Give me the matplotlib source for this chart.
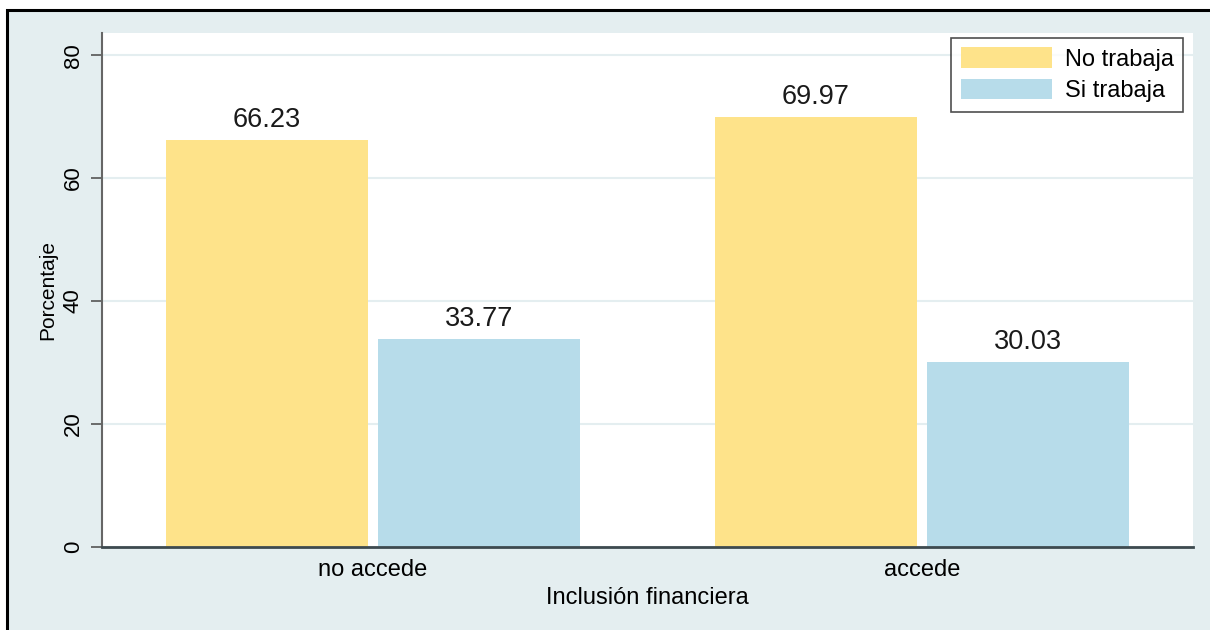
import matplotlib.pyplot as plt
import numpy as np
from matplotlib.patches import Rectangle

plt.rcParams['font.family'] = ['Liberation Sans', 'DejaVu Sans']

categories = ['no accede', 'accede']
no_trabaja = [66.23, 69.97]
si_trabaja = [33.77, 30.03]
series_names = ['No trabaja', 'Si trabaja']
yticks = [0, 20, 40, 60, 80]

yellow = '#fee38a'
blue = '#b7dcea'
bg = '#e4eef0'

fig = plt.figure(figsize=(12.1, 6.3), dpi=100)
fig.patch.set_facecolor('white')

# stata-like outer panel with black border at top/left
fig.patches.append(Rectangle((7 / 1210, -0.05), 1.1, 1 - 10 / 630 + 0.05,
                             transform=fig.transFigure, facecolor=bg,
                             edgecolor='black', linewidth=2.2, zorder=-10))

ax = fig.add_axes([102 / 1210, 83 / 630, 1091 / 1210, 514 / 630])
ax.set_facecolor('white')

x = np.arange(len(categories))
w = 0.368
gap = 0.018
b1 = ax.bar(x - (w + gap) / 2, no_trabaja, w, color=yellow, label=series_names[0], zorder=2)
b2 = ax.bar(x + (w + gap) / 2, si_trabaja, w, color=blue, label=series_names[1], zorder=2)

for bars, vals in [(b1, no_trabaja), (b2, si_trabaja)]:
    for r, v in zip(bars, vals):
        ax.annotate('%.2f' % v, (r.get_x() + r.get_width() / 2, v),
                    xytext=(0, 5), textcoords='offset points',
                    ha='center', va='bottom', fontsize=19.5, color='#1a1a1a')

ax.set_xlim(-0.494, 1.494)
ax.set_ylim(0, 83.6)
ax.set_yticks(yticks)
ax.set_yticklabels([str(t) for t in yticks], rotation=90, va='center', fontsize=16)
ax.set_xticks(x)
ax.set_xticklabels(categories, fontsize=17)
ax.tick_params(axis='x', length=0, pad=9)
ax.tick_params(axis='y', length=8, width=1.2, color='#555555', pad=5)
ax.yaxis.grid(True, color='#e4eef0', linewidth=1.5, zorder=0)
ax.set_axisbelow(True)

for s in ['top', 'right']:
    ax.spines[s].set_visible(False)
ax.spines['left'].set_color('#666666')
ax.spines['left'].set_linewidth(1.5)
ax.spines['bottom'].set_color('#3d4a4f')
ax.spines['bottom'].set_linewidth(2)

ax.set_ylabel('Porcentaje', fontsize=15, labelpad=4)
ax.set_xlabel('Inclusión financiera', fontsize=17, labelpad=4)

leg = ax.legend(loc='upper right', bbox_to_anchor=(1 - 10 / 1091, 1 - 5 / 514),
                fontsize=17, frameon=True, fancybox=False, handlelength=3.85,
                handleheight=0.95, borderaxespad=0, labelspacing=0.35,
                handletextpad=0.55, borderpad=0.4)
leg.get_frame().set_edgecolor('#222222')
leg.get_frame().set_linewidth(1.2)

fig.savefig('out.png', dpi=100)
